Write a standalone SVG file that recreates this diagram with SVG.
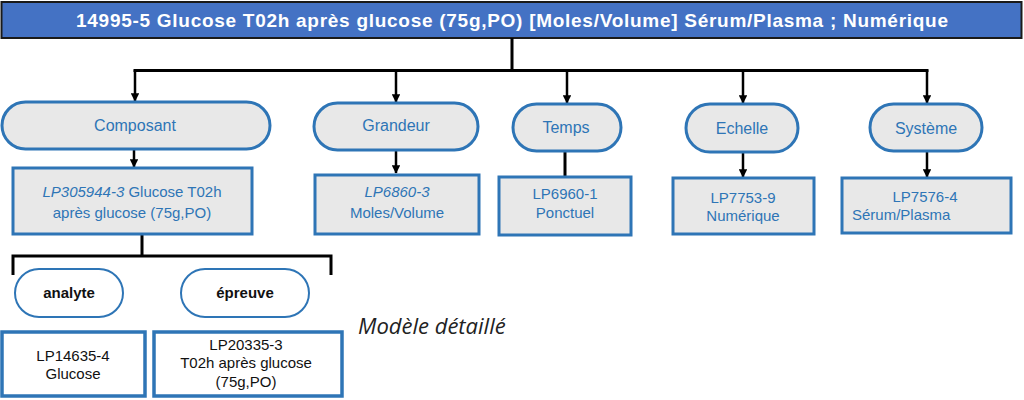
<svg xmlns="http://www.w3.org/2000/svg" width="1024" height="400" viewBox="0 0 1024 400">
<defs>
<marker id="ah" viewBox="0 0 10 10" refX="9" refY="5" markerWidth="3.4" markerHeight="3.4" orient="auto" markerUnits="strokeWidth">
<path d="M0,0 L10,5 L0,10 z" fill="#000"/>
</marker>
<style>
.pill{fill:#E8E8E8;stroke:#2E75B6;stroke-width:3}
.box{fill:#E8E8E8;stroke:#2E75B6;stroke-width:3}
.wpill{fill:#FFFFFF;stroke:#2E75B6;stroke-width:2}
.wbox{fill:#FFFFFF;stroke:#2E75B6;stroke-width:3.5}
.t{font-family:"Liberation Sans",Arial,sans-serif;font-size:15px;fill:#2E75B6;text-anchor:middle}
.p{font-family:"Liberation Sans",Arial,sans-serif;font-size:16px;fill:#2E75B6;text-anchor:middle}
.k{font-family:"Liberation Sans",Arial,sans-serif;font-size:15px;fill:#111;text-anchor:middle}
.kb{font-family:"Liberation Sans",Arial,sans-serif;font-size:15px;font-weight:bold;fill:#111;text-anchor:middle}
.c{fill:none;stroke:#000;stroke-width:3}
.ca{fill:none;stroke:#000;stroke-width:2.5;marker-end:url(#ah)}
</style>
</defs>
<rect width="1024" height="400" fill="#FFFFFF"/>

<g id="title">
<rect x="1.5" y="2" width="1020" height="36" fill="#4472C4" stroke="#1a1a1a" stroke-width="2"/>
<text x="512" y="27" textLength="872" lengthAdjust="spacing" style="font-family:'Liberation Sans',Arial,sans-serif;font-size:19px;font-weight:bold;fill:#FFFFFF;text-anchor:middle">14995-5 Glucose T02h après glucose (75g,PO) [Moles/Volume] Sérum/Plasma ; Numérique</text>
</g>

<g id="connectors">
<path class="c" d="M512,38 V70.5 M133.5,70.5 H928.5"/>
<path class="ca" d="M135,70 V101"/>
<path class="ca" d="M396,70 V102"/>
<path class="ca" d="M567,70 V103"/>
<path class="ca" d="M743,70 V103"/>
<path class="ca" d="M927,70 V103"/>
<path class="ca" d="M134,149 V167"/>
<path class="ca" d="M396,150 V173"/>
<path class="c" d="M565,151 V176"/>
<path class="ca" d="M743,152 V177"/>
<path class="ca" d="M927,152 V177"/>
<path class="c" d="M142,235 V256 M13,275 V256 H331 V275"/>
</g>

<g id="composant">
<rect class="pill" x="2" y="102" width="268" height="47" rx="23.5"/>
<text class="p" x="135" y="131">Composant</text>
</g>
<g id="grandeur">
<rect class="pill" x="314" y="103" width="164" height="47" rx="23.5"/>
<text class="p" x="396" y="131">Grandeur</text>
</g>
<g id="temps">
<rect class="pill" x="513" y="104" width="108" height="47" rx="23.5"/>
<text class="p" x="566" y="133">Temps</text>
</g>
<g id="echelle">
<rect class="pill" x="686" y="104" width="112" height="48" rx="24"/>
<text class="p" x="742" y="134">Echelle</text>
</g>
<g id="systeme">
<rect class="pill" x="870" y="104" width="112" height="47" rx="23.5"/>
<text class="p" x="926" y="134">Système</text>
</g>

<g id="composant-lp">
<rect class="box" x="13" y="168" width="239" height="66"/>
<text class="t" x="132" y="197"><tspan font-style="italic">LP305944-3</tspan> Glucose T02h</text>
<text class="t" x="132" y="218">après glucose (75g,PO)</text>
</g>
<g id="grandeur-lp">
<rect class="box" x="315" y="175" width="164" height="59"/>
<text class="t" x="397" y="197" font-style="italic">LP6860-3</text>
<text class="t" x="397" y="218">Moles/Volume</text>
</g>
<g id="temps-lp">
<rect class="box" x="499" y="177" width="132" height="58"/>
<text class="t" x="565" y="199">LP6960-1</text>
<text class="t" x="565" y="218">Ponctuel</text>
</g>
<g id="echelle-lp">
<rect class="box" x="673" y="178" width="141" height="56"/>
<text class="t" x="743" y="203">LP7753-9</text>
<text class="t" x="743" y="221">Numérique</text>
</g>
<g id="systeme-lp">
<rect class="box" x="842" y="178" width="169" height="55"/>
<text class="t" x="925" y="202">LP7576-4</text>
<text class="t" x="852" y="220" style="text-anchor:start">Sérum/Plasma</text>
</g>

<g id="analyte">
<rect class="wpill" x="15" y="269" width="108" height="48" rx="24"/>
<text class="kb" x="69" y="298">analyte</text>
</g>
<g id="epreuve">
<rect class="wpill" x="181" y="269" width="128" height="48" rx="24"/>
<text class="kb" x="245" y="298">épreuve</text>
</g>

<g id="analyte-lp">
<rect class="wbox" x="2" y="332" width="143" height="64"/>
<text class="k" x="73" y="361">LP14635-4</text>
<text class="k" x="73" y="379">Glucose</text>
</g>
<g id="epreuve-lp">
<rect class="wbox" x="154" y="332" width="188" height="64"/>
<text class="k" x="246" y="350">LP20335-3</text>
<text class="k" x="246" y="368">T02h après glucose</text>
<text class="k" x="246" y="387">(75g,PO)</text>
</g>

<text x="358" y="334" style="font-family:'Open Sans','Liberation Sans',sans-serif;font-size:22px;font-style:italic;fill:#222">Modèle détaillé</text>
</svg>
